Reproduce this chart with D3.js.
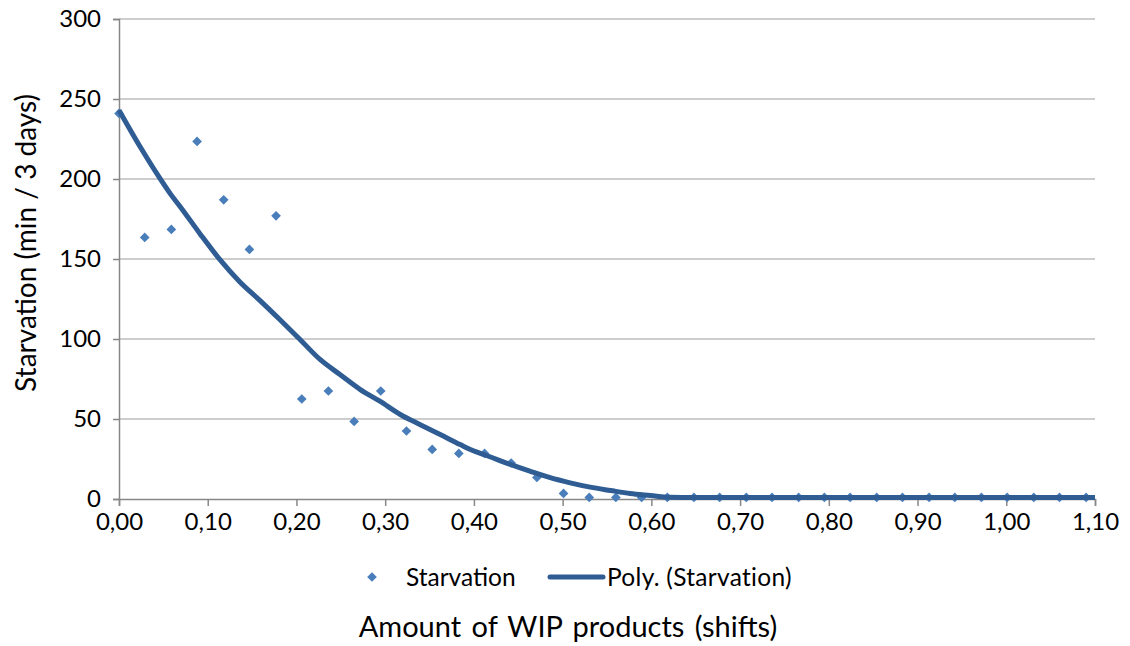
<!DOCTYPE html>
<html>
<head>
<meta charset="utf-8">
<script src="https://cdn.jsdelivr.net/npm/d3@7"></script>
<style>
  html, body { margin: 0; padding: 0; background: #fff; }
  svg { display: block; font-family: Lato, "Open Sans", sans-serif; }
</style>
</head>
<body>
<svg id="chart" width="1130" height="646"></svg>
<script>
// Data
const wipShifts = [0, 0.029, 0.059, 0.088, 0.118, 0.147, 0.177, 0.206, 0.236, 0.265,
  0.295, 0.324, 0.353, 0.383, 0.412, 0.442, 0.471, 0.501, 0.530, 0.560,
  0.589, 0.618, 0.648, 0.677, 0.707, 0.736, 0.766, 0.795, 0.824, 0.854,
  0.883, 0.913, 0.942, 0.972, 1.001, 1.031, 1.060, 1.090];
const starvation = [241, 163.5, 168.5, 223.5, 187, 156, 177, 62.5, 67.5, 48.5,
  67.5, 42.5, 31, 28.5, 28.5, 22.5, 13.5, 3.5, 1, 1,
  1, 1, 1, 1, 1, 1, 1, 1, 1, 1,
  1, 1, 1, 1, 1, 1, 1, 1];
// Polynomial trendline
const trendX = [0, 0.024, 0.046, 0.0575, 0.069, 0.091, 0.114, 0.136, 0.159, 0.1815,
  0.204, 0.2266, 0.249, 0.272, 0.294, 0.317, 0.339, 0.362, 0.3845, 0.396,
  0.418, 0.441, 0.463, 0.486, 0.5085, 0.531, 0.554, 0.576, 0.599, 0.621,
  0.65, 0.8, 1.1];
const trendY = [243, 220, 200.5, 191, 182.7, 166, 149.4, 135.8, 124, 112,
  99.7, 87.2, 77.8, 68.4, 61.1, 52.8, 46.6, 40.3, 34, 30.9,
  26.4, 21.6, 17.4, 13.3, 10.1, 7.4, 5.3, 3.4, 2.2, 1.1,
  0.9, 0.9, 0.9];
const xTicks = [0, 0.1, 0.2, 0.3, 0.4, 0.5, 0.6, 0.7, 0.8, 0.9, 1.0, 1.1];
const yTicks = [0, 50, 100, 150, 200, 250, 300];
const seriesName = "Starvation";
const trendName = "Poly. (Starvation)";
const xTitle = "Amount of WIP products (shifts)";
const yTitle = "Starvation (min / 3 days)";

const svg = d3.select("#chart");
const pLeft = 119, pRight = 1095, pTop = 19, pBottom = 499;
const x = d3.scaleLinear().domain([0, 1.1]).range([pLeft, pRight]);
const y = d3.scaleLinear().domain([0, 300]).range([pBottom, pTop]);
const fmt = d => d3.format(".2f")(d).replace(".", ",");

// gridlines
svg.append("g").selectAll("line").data(yTicks.filter(d => d > 0)).join("line")
  .attr("x1", pLeft).attr("x2", pRight)
  .attr("y1", d => y(d)).attr("y2", d => y(d))
  .attr("stroke", "#bcbcbc").attr("stroke-width", 1.5);

// y axis
const yAxis = svg.append("g").attr("transform", `translate(${pLeft},0)`)
  .call(d3.axisLeft(y).tickValues(yTicks).tickSize(6).tickPadding(12));
yAxis.select(".domain").attr("stroke", "#878787").attr("stroke-width", 1.5);
yAxis.selectAll(".tick line").attr("stroke", "#878787").attr("stroke-width", 1.5);
yAxis.selectAll(".tick text").attr("font-size", 24).attr("fill", "#000")
  .attr("font-family", "Lato, sans-serif");

// x axis
const xAxis = svg.append("g").attr("transform", `translate(0,${pBottom})`)
  .call(d3.axisBottom(x).tickValues(xTicks).tickFormat(fmt).tickSize(7).tickPadding(7));
xAxis.select(".domain").attr("stroke", "#878787").attr("stroke-width", 1.5);
xAxis.selectAll(".tick line").attr("stroke", "#878787").attr("stroke-width", 1.5);
xAxis.selectAll(".tick text").attr("font-size", 24).attr("fill", "#000")
  .attr("font-family", "Lato, sans-serif");

// markers
const diamond = d3.symbol().type(d3.symbolDiamond2).size(60);
svg.append("g").selectAll("path").data(wipShifts.map((d, i) => [d, starvation[i]])).join("path")
  .attr("d", diamond)
  .attr("transform", d => `translate(${x(d[0])},${y(d[1])})`)
  .attr("fill", "#4a7ebb");

// trendline
const trend = trendX.map((d, i) => [d, trendY[i]]);
svg.append("path").datum(trend)
  .attr("d", d3.line().x(d => x(d[0])).y(d => y(d[1])).curve(d3.curveMonotoneX))
  .attr("fill", "none").attr("stroke", "#2f5d93").attr("stroke-width", 5)
  .attr("stroke-linejoin", "round");

// legend
const lg = svg.append("g");
lg.append("path").attr("d", diamond).attr("transform", "translate(372,577)").attr("fill", "#4a7ebb");
lg.append("text").attr("x", 406).attr("y", 586)
  .attr("font-size", 24.5).text(seriesName);
lg.append("line").attr("x1", 550).attr("x2", 603).attr("y1", 577).attr("y2", 577)
  .attr("stroke", "#2f5d93").attr("stroke-width", 5).attr("stroke-linecap", "round");
lg.append("text").attr("x", 607).attr("y", 586)
  .attr("font-size", 24.5).attr("letter-spacing", 0.3).text(trendName);

// axis titles
svg.append("text").attr("x", 568).attr("y", 637)
  .attr("text-anchor", "middle").attr("font-size", 29).attr("word-spacing", 3).text(xTitle);
svg.append("text").attr("transform", "translate(36,243) rotate(-90)")
  .attr("text-anchor", "middle").attr("font-size", 28).text(yTitle);
</script>
</body>
</html>
